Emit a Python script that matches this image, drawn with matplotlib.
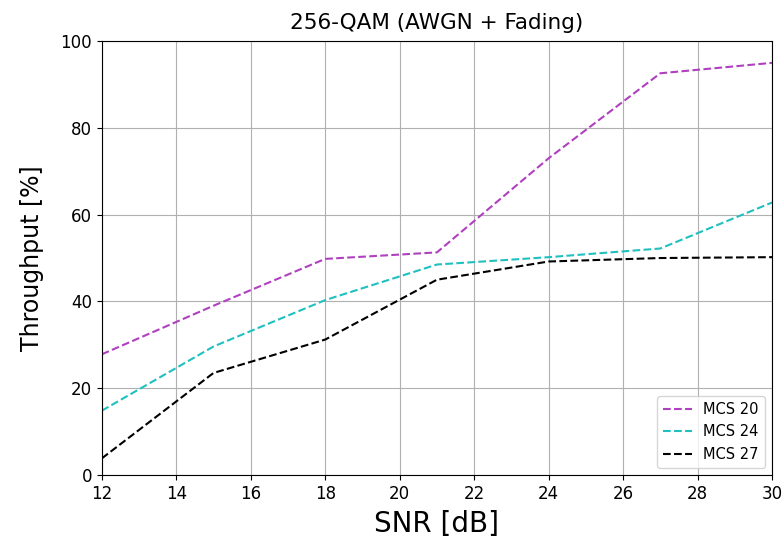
import matplotlib
matplotlib.use("Agg")
import matplotlib.pyplot as plt

snr = [12, 15, 18, 21, 24, 27, 30]
mcs20 = [27.8, 39.0, 49.8, 51.3, 73.0, 92.6, 95.0]
mcs24 = [14.8, 29.6, 40.3, 48.5, 50.2, 52.2, 62.8]
mcs27 = [3.8, 23.5, 31.2, 45.0, 49.2, 50.0, 50.2]
labels = ["MCS 20", "MCS 24", "MCS 27"]
xticks = [12, 14, 16, 18, 20, 22, 24, 26, 28, 30]
yticks = [0, 20, 40, 60, 80, 100]

fig = plt.figure(figsize=(7.83, 5.49), dpi=100)
ax = fig.add_axes([0.130, 0.135, 0.856, 0.790])
ax.plot(snr, mcs20, '--', color='#b040c0', label=labels[0])
ax.plot(snr, mcs24, '--', color='#20c0c0', label=labels[1])
ax.plot(snr, mcs27, '--', color='black', label=labels[2])
ax.set_xlim(12, 30)
ax.set_ylim(0, 100)
ax.set_xticks(xticks)
ax.set_yticks(yticks)
ax.tick_params(labelsize=12)
ax.grid(True)
ax.set_title("256-QAM (AWGN + Fading)", fontsize=15.5, pad=9)
ax.set_xlabel("SNR [dB]", fontsize=20, labelpad=5)
ax.set_ylabel("Throughput [%]", fontsize=17, labelpad=12)
ax.legend(loc='lower right', fontsize=10.5)
fig.savefig("out.png", dpi=100)
